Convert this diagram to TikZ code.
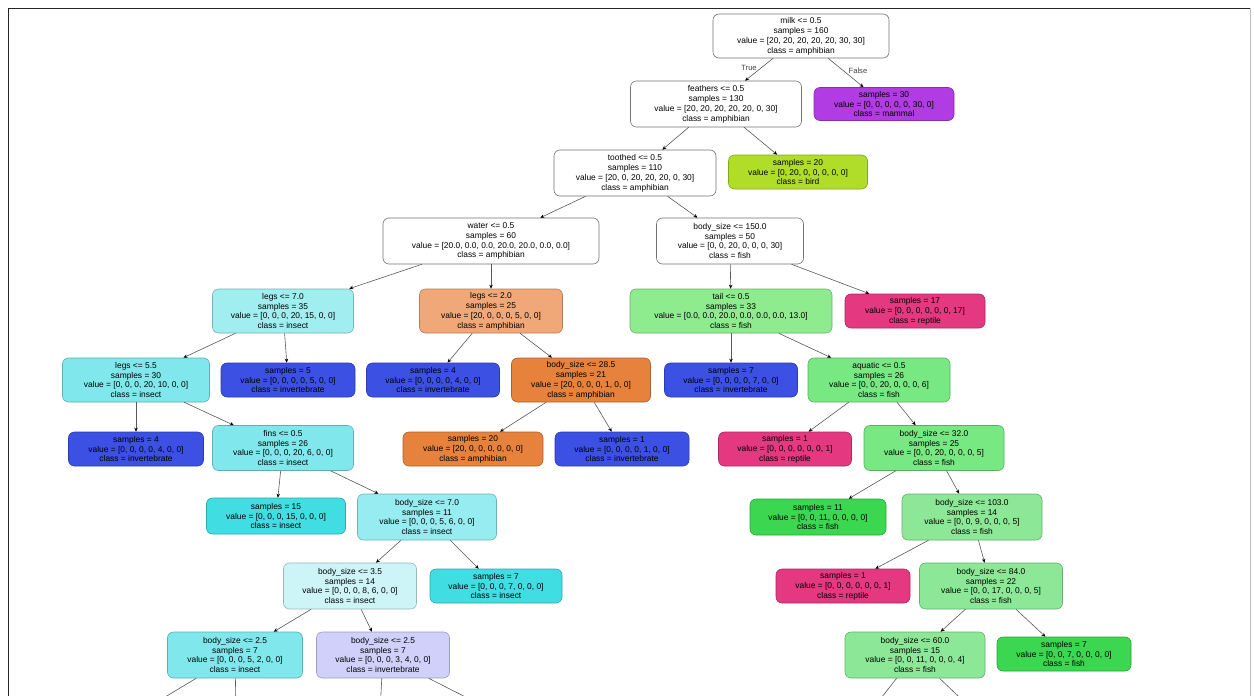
\documentclass[tikz,border=0pt]{standalone}
\usepackage{fontspec}
\setmainfont{Liberation Sans}
\usetikzlibrary{arrows.meta}
\definecolor{cpurp}{RGB}{178,60,228}
\definecolor{clime}{RGB}{176,222,40}
\definecolor{ccyanA}{RGB}{160,238,240}
\definecolor{ccyanB}{RGB}{128,232,236}
\definecolor{ccyanS}{RGB}{64,222,226}
\definecolor{ccyanC}{RGB}{150,236,240}
\definecolor{ccyanVL}{RGB}{205,245,248}
\definecolor{clav}{RGB}{208,208,250}
\definecolor{corangeL}{RGB}{240,168,120}
\definecolor{corange}{RGB}{230,130,60}
\definecolor{cblue}{RGB}{60,80,228}
\definecolor{cpink}{RGB}{228,56,128}
\definecolor{cgreenL}{RGB}{142,236,142}
\definecolor{cgreen}{RGB}{120,232,130}
\definecolor{cgreenS}{RGB}{60,215,80}
\definecolor{cgreenM}{RGB}{140,232,150}
\tikzset{
  tn/.style={draw=#1!75!black, fill=#1, rounded corners=6pt, align=center,
    inner sep=0.5pt, font=\fontsize{8.4}{9.9}\selectfont, line width=0.6pt},
  wn/.style={draw=black!55, fill=white, rounded corners=6pt, align=center,
    inner sep=0.5pt, font=\fontsize{8.4}{9.9}\selectfont, line width=0.6pt},
  edge/.style={draw=black!65, line width=0.6pt, -{Stealth[length=4pt,width=3.5pt,black]}},
  elab/.style={font=\fontsize{7.6}{8}\selectfont, text=black!75}
}
\begin{document}
\begin{tikzpicture}[x=1pt,y=-1pt]
\useasboundingbox (0,0) rectangle (1254,696);
\clip (0,0) rectangle (1254,696);
\fill[white] (0,0) rectangle (1254,696);
\draw[black!85, line width=0.8pt] (8,700) |- (1250,8);
\draw[black!25, line width=0.8pt] (1250,8) -- (1250,700);

% level 1-2
\node[wn, minimum width=176pt, minimum height=44pt] (n1) at (801,36)
  {milk <= 0.5\\samples = 160\\value = [20, 20, 20, 20, 20, 30, 30]\\class = amphibian};
\node[tn=cpurp, minimum width=140pt, minimum height=33pt] (n2) at (884,104)
  {samples = 30\\value = [0, 0, 0, 0, 0, 30, 0]\\class = mammal};
\node[wn, minimum width=171pt, minimum height=46pt] (n3) at (716,104)
  {feathers <= 0.5\\samples = 130\\value = [20, 20, 20, 20, 20, 0, 30]\\class = amphibian};
% level 3
\node[wn, minimum width=162pt, minimum height=46pt] (n4) at (635,173)
  {toothed <= 0.5\\samples = 110\\value = [20, 0, 20, 20, 20, 0, 30]\\class = amphibian};
\node[tn=clime, minimum width=139pt, minimum height=34pt] (n5) at (798,172)
  {samples = 20\\value = [0, 20, 0, 0, 0, 0, 0]\\class = bird};
% level 4
\node[wn, minimum width=216pt, minimum height=46pt] (n6) at (491,241)
  {water <= 0.5\\samples = 60\\value = [20.0, 0.0, 0.0, 20.0, 20.0, 0.0, 0.0]\\class = amphibian};
\node[wn, minimum width=147pt, minimum height=46pt] (n7) at (730,241)
  {body\_size <= 150.0\\samples = 50\\value = [0, 0, 20, 0, 0, 0, 30]\\class = fish};
% level 5
\node[tn=ccyanA, minimum width=141pt, minimum height=44pt] (n8) at (283,311)
  {legs <= 7.0\\samples = 35\\value = [0, 0, 0, 20, 15, 0, 0]\\class = insect};
\node[tn=corangeL, minimum width=143pt, minimum height=44pt] (n9) at (491,311)
  {legs <= 2.0\\samples = 25\\value = [20, 0, 0, 0, 5, 0, 0]\\class = amphibian};
\node[tn=cgreenL, minimum width=202pt, minimum height=44pt] (n10) at (731,311)
  {tail <= 0.5\\samples = 33\\value = [0.0, 0.0, 20.0, 0.0, 0.0, 0.0, 13.0]\\class = fish};
\node[tn=cpink, minimum width=140pt, minimum height=34pt] (n11) at (915,311)
  {samples = 17\\value = [0, 0, 0, 0, 0, 0, 17]\\class = reptile};
% level 6
\node[tn=ccyanB, minimum width=147pt, minimum height=44pt] (n12) at (136,380)
  {legs <= 5.5\\samples = 30\\value = [0, 0, 0, 20, 10, 0, 0]\\class = insect};
\node[tn=cblue, minimum width=134pt, minimum height=34pt] (n13) at (288,380)
  {samples = 5\\value = [0, 0, 0, 0, 5, 0, 0]\\class = invertebrate};
\node[tn=cblue, minimum width=133pt, minimum height=34pt] (n14) at (433,380)
  {samples = 4\\value = [0, 0, 0, 0, 4, 0, 0]\\class = invertebrate};
\node[tn=corange, minimum width=139pt, minimum height=44pt] (n15) at (581,380)
  {body\_size <= 28.5\\samples = 21\\value = [20, 0, 0, 0, 1, 0, 0]\\class = amphibian};
\node[tn=cblue, minimum width=133pt, minimum height=34pt] (n16) at (731,380)
  {samples = 7\\value = [0, 0, 0, 0, 7, 0, 0]\\class = invertebrate};
\node[tn=cgreen, minimum width=142pt, minimum height=44pt] (n17) at (879,380)
  {aquatic <= 0.5\\samples = 26\\value = [0, 0, 20, 0, 0, 0, 6]\\class = fish};
% level 7
\node[tn=cblue, minimum width=135pt, minimum height=34pt] (n18) at (136,449)
  {samples = 4\\value = [0, 0, 0, 0, 4, 0, 0]\\class = invertebrate};
\node[tn=ccyanB, minimum width=141pt, minimum height=45pt] (n19) at (283,448)
  {fins <= 0.5\\samples = 26\\value = [0, 0, 0, 20, 6, 0, 0]\\class = insect};
\node[tn=corange, minimum width=140pt, minimum height=34pt] (n20) at (473,449)
  {samples = 20\\value = [20, 0, 0, 0, 0, 0, 0]\\class = amphibian};
\node[tn=cblue, minimum width=134pt, minimum height=34pt] (n21) at (622,449)
  {samples = 1\\value = [0, 0, 0, 0, 1, 0, 0]\\class = invertebrate};
\node[tn=cpink, minimum width=133pt, minimum height=34pt] (n22) at (785,449)
  {samples = 1\\value = [0, 0, 0, 0, 0, 0, 1]\\class = reptile};
\node[tn=cgreen, minimum width=140pt, minimum height=45pt] (n23) at (934,448)
  {body\_size <= 32.0\\samples = 25\\value = [0, 0, 20, 0, 0, 0, 5]\\class = fish};
% level 8
\node[tn=ccyanS, minimum width=139pt, minimum height=36pt] (n24) at (276,516)
  {samples = 15\\value = [0, 0, 0, 15, 0, 0, 0]\\class = insect};
\node[tn=ccyanC, minimum width=139pt, minimum height=46pt] (n25) at (427,517)
  {body\_size <= 7.0\\samples = 11\\value = [0, 0, 0, 5, 6, 0, 0]\\class = insect};
\node[tn=cgreenS, minimum width=136pt, minimum height=36pt] (n26) at (818,517)
  {samples = 11\\value = [0, 0, 11, 0, 0, 0, 0]\\class = fish};
\node[tn=cgreenM, minimum width=140pt, minimum height=46pt] (n27) at (972,517)
  {body\_size <= 103.0\\samples = 14\\value = [0, 0, 9, 0, 0, 0, 5]\\class = fish};
% level 9
\node[tn=ccyanVL, minimum width=133pt, minimum height=46pt] (n28) at (350,586)
  {body\_size <= 3.5\\samples = 14\\value = [0, 0, 0, 8, 6, 0, 0]\\class = insect};
\node[tn=ccyanS, minimum width=132pt, minimum height=34pt] (n29) at (496,586)
  {samples = 7\\value = [0, 0, 0, 7, 0, 0, 0]\\class = insect};
\node[tn=cpink, minimum width=134pt, minimum height=34pt] (n30) at (843,586)
  {samples = 1\\value = [0, 0, 0, 0, 0, 0, 1]\\class = reptile};
\node[tn=cgreenM, minimum width=143pt, minimum height=46pt] (n31) at (991,586)
  {body\_size <= 84.0\\samples = 22\\value = [0, 0, 17, 0, 0, 0, 5]\\class = fish};
% level 10
\node[tn=ccyanB, minimum width=135pt, minimum height=46pt] (n32) at (235,655)
  {body\_size <= 2.5\\samples = 7\\value = [0, 0, 0, 5, 2, 0, 0]\\class = insect};
\node[tn=clav, minimum width=133pt, minimum height=46pt] (n33) at (383,655)
  {body\_size <= 2.5\\samples = 7\\value = [0, 0, 0, 3, 4, 0, 0]\\class = invertebrate};
\node[tn=cgreenM, minimum width=140pt, minimum height=46pt] (n34) at (915,655)
  {body\_size <= 60.0\\samples = 15\\value = [0, 0, 11, 0, 0, 0, 4]\\class = fish};
\node[tn=cgreenS, minimum width=134pt, minimum height=34pt] (n35) at (1064,654)
  {samples = 7\\value = [0, 0, 7, 0, 0, 0, 0]\\class = fish};

\coordinate (o1) at (140,712);
\coordinate (o2) at (236,712);
\coordinate (o3) at (380,712);
\coordinate (o4) at (495,712);
\coordinate (o5) at (870,712);
\coordinate (o6) at (975,712);

\draw[edge] (n1) -- node[elab, pos=0.42, left=1pt] {True} (n3);
\draw[edge] (n1) -- node[elab, pos=0.42, right=2pt] {False} (n2);
\draw[edge] (n3) -- (n4);
\draw[edge] (n3) -- (n5);
\draw[edge] (n4) -- (n6);
\draw[edge] (n4) -- (n7);
\draw[edge] (n6) -- (n8);
\draw[edge] (n6) -- (n9);
\draw[edge] (n7) -- (n10);
\draw[edge] (n7) -- (n11);
\draw[edge] (n8) -- (n12);
\draw[edge] (n8) -- (n13);
\draw[edge] (n9) -- (n14);
\draw[edge] (n9) -- (n15);
\draw[edge] (n10) -- (n16);
\draw[edge] (n10) -- (n17);
\draw[edge] (n12) -- (n18);
\draw[edge] (n12) -- (n19);
\draw[edge] (n15) -- (n20);
\draw[edge] (n15) -- (n21);
\draw[edge] (n17) -- (n22);
\draw[edge] (n17) -- (n23);
\draw[edge] (n19) -- (n24);
\draw[edge] (n19) -- (n25);
\draw[edge] (n23) -- (n26);
\draw[edge] (n23) -- (n27);
\draw[edge] (n25) -- (n28);
\draw[edge] (n25) -- (n29);
\draw[edge] (n27) -- (n30);
\draw[edge] (n27) -- (n31);
\draw[edge] (n28) -- (n32);
\draw[edge] (n28) -- (n33);
\draw[edge] (n31) -- (n34);
\draw[edge] (n31) -- (n35);
\draw[edge] (n32) -- (o1);
\draw[edge] (n32) -- (o2);
\draw[edge] (n33) -- (o3);
\draw[edge] (n33) -- (o4);
\draw[edge] (n34) -- (o5);
\draw[edge] (n34) -- (o6);
\end{tikzpicture}
\end{document}
